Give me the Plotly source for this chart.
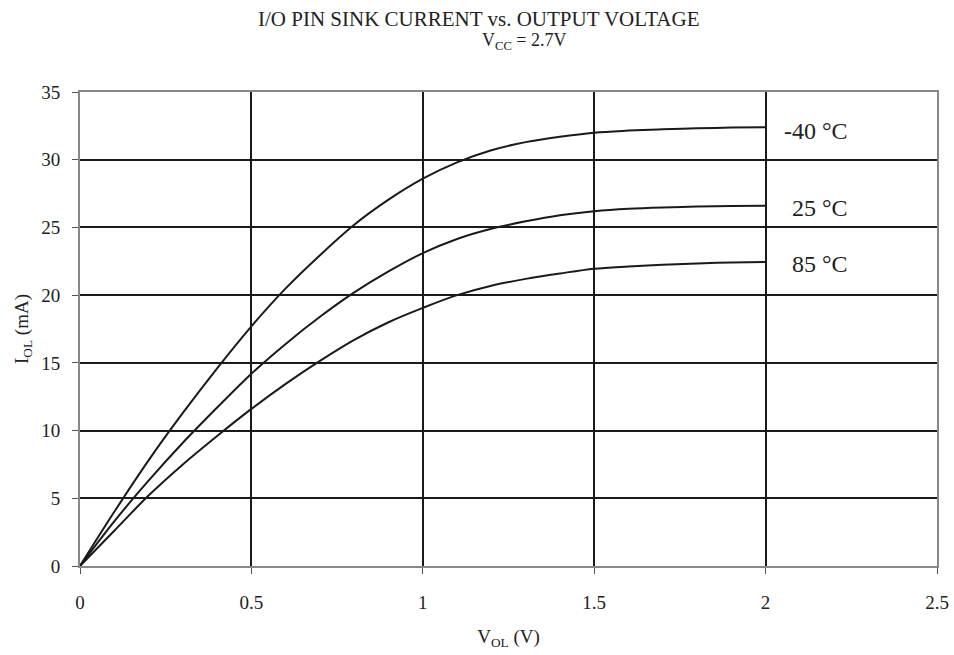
import plotly.graph_objects as go

v_ol = [0.0, 0.1, 0.2, 0.3, 0.4, 0.5, 0.6, 0.7, 0.8, 0.9, 1.0,
        1.1, 1.2, 1.3, 1.4, 1.5, 1.6, 1.7, 1.8, 1.9, 2.0]

i_m40 = [0.0, 4.0, 7.8, 11.3, 14.6, 17.7, 20.5, 22.95, 25.2, 27.05, 28.6,
         29.8, 30.7, 31.3, 31.7, 32.0, 32.15, 32.25, 32.32, 32.37, 32.4]
i_25 = [0.0, 3.3, 6.3, 9.1, 11.7, 14.2, 16.4, 18.4, 20.2, 21.75, 23.1,
        24.15, 24.9, 25.45, 25.9, 26.2, 26.38, 26.48, 26.54, 26.58, 26.6]
i_85 = [0.0, 2.6, 5.2, 7.5, 9.6, 11.6, 13.45, 15.15, 16.7, 18.0, 19.06,
        20.0, 20.7, 21.2, 21.6, 21.95, 22.12, 22.25, 22.34, 22.41, 22.45]

series_names = ["-40 °C", "25 °C", "85 °C"]
series_values = [i_m40, i_25, i_85]
label_y = [32.15, 26.4, 22.3]
label_x = 2.245

x_ticks = [0, 0.5, 1, 1.5, 2, 2.5]
x_tick_text = ["0", "0.5", "1", "1.5", "2", "2.5"]
y_ticks = [0, 5, 10, 15, 20, 25, 30, 35]

FONT = "Liberation Serif, Times New Roman, serif"

fig = go.Figure()
for name, vals in zip(series_names, series_values):
    fig.add_trace(go.Scatter(x=v_ol, y=vals, mode="lines", name=name,
                             line=dict(color="#1a1a1a", width=2, shape="spline"),
                             showlegend=False, hoverinfo="skip"))

annotations = []
for name, ly in zip(series_names, label_y):
    annotations.append(dict(x=label_x, y=ly, xref="x", yref="y", text=name,
                            showarrow=False, xanchor="right", yanchor="middle",
                            font=dict(family=FONT, size=24, color="#222")))

annotations.append(dict(x=0.4656, y=1.154, xref="paper", yref="paper",
                        text="I/O PIN SINK CURRENT vs. OUTPUT VOLTAGE",
                        showarrow=False, xanchor="center", yanchor="middle",
                        font=dict(family=FONT, size=21, color="#222")))
annotations.append(dict(x=0.518, y=1.106, xref="paper", yref="paper",
                        text="V<sub>CC</sub> = 2.7V",
                        showarrow=False, xanchor="center", yanchor="middle",
                        font=dict(family=FONT, size=18, color="#222")))

fig.update_layout(
    width=954, height=655,
    margin=dict(l=80, r=17, t=92, b=89),
    paper_bgcolor="white", plot_bgcolor="white",
    font=dict(family=FONT, color="#222"),
    annotations=annotations,
    xaxis=dict(range=[0, 2.5], tickvals=x_ticks, ticktext=x_tick_text,
               automargin=False,
               showgrid=True, gridcolor="#1a1a1a", gridwidth=2,
               showline=True, linecolor="#888", linewidth=2, mirror=True,
               ticks="outside", ticklen=6, tickcolor="#555", tickwidth=1,
               ticklabelstandoff=12, ticklabeloverflow="allow", zeroline=False,
               tickfont=dict(family=FONT, size=19, color="#222"),
               title=dict(text="V<sub>OL</sub> (V)", standoff=18,
                          font=dict(family=FONT, size=19, color="#222"))),
    yaxis=dict(range=[0, 35], tickvals=y_ticks,
               automargin=False,
               showgrid=True, gridcolor="#1a1a1a", gridwidth=2,
               showline=True, linecolor="#888", linewidth=2, mirror=True,
               ticks="outside", ticklen=6, tickcolor="#555", tickwidth=1,
               ticklabelstandoff=8, zeroline=False,
               tickfont=dict(family=FONT, size=19, color="#222"),
               title=dict(text="I<sub>OL</sub> (mA)", standoff=8,
                          font=dict(family=FONT, size=19, color="#222"))),
)

fig.write_html("out.html", config={"displayModeBar": False},
               post_script="document.body.style.margin='0px';")
